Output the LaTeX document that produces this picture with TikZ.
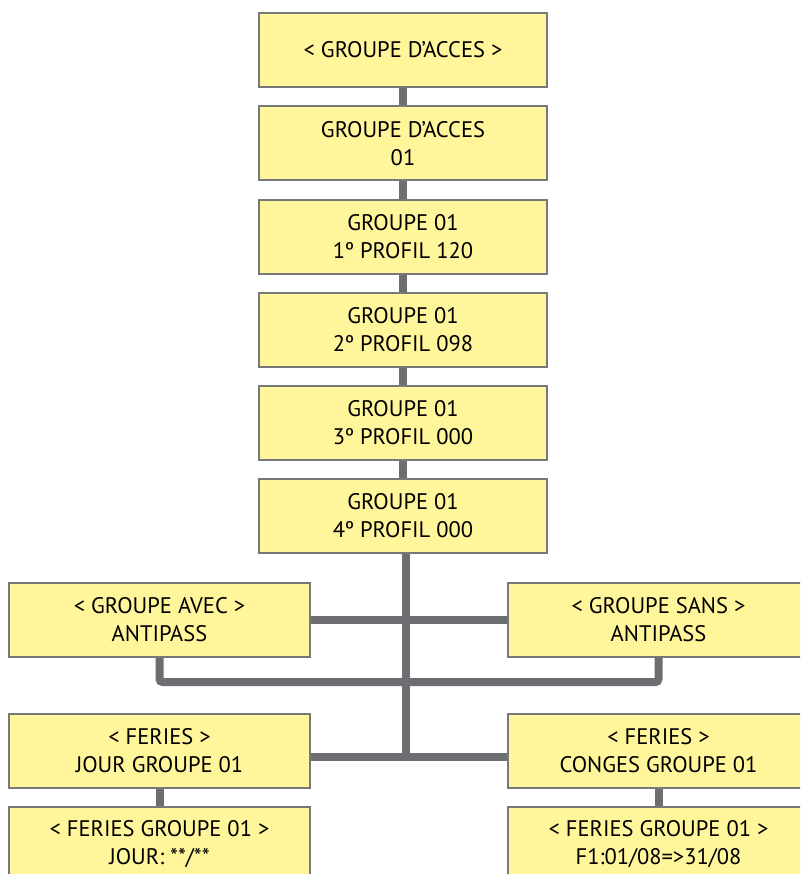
\documentclass[tikz,border=0pt]{standalone}
\usepackage{fontspec}
\setmainfont{PT Sans}
\usetikzlibrary{positioning}
\definecolor{boxfill}{HTML}{FFF59A}
\definecolor{boxline}{HTML}{78787B}
\definecolor{wire}{HTML}{6D6E71}
\pgfdeclarelayer{background}
\pgfsetlayers{background,main}

\begin{document}
\begin{tikzpicture}[
    x=1pt, y=-1pt,
    menu/.style={draw=boxline, line width=2pt, fill=boxfill, minimum width=288pt, minimum height=74pt,
      inner sep=0pt, align=center, font=\fontsize{22.5}{28}\selectfont},
    side/.style={menu, minimum width=301pt},
    link/.style={draw=wire, line width=8pt},
]
\useasboundingbox (0,0) rectangle (800,874);
\clip (0,0) rectangle (800,874);

% main column
\node[menu] (acc) at (403, 50) {< GROUPE D’ACCES >};
\node[menu] (acc01) at (403, 143.5) {GROUPE D’ACCES\\01};
\node[menu] (p1) at (403, 237) {GROUPE 01\\1º PROFIL 120};
\node[menu] (p2) at (403, 330) {GROUPE 01\\2º PROFIL 098};
\node[menu] (p3) at (403, 423) {GROUPE 01\\3º PROFIL 000};
\node[menu] (p4) at (403, 516) {GROUPE 01\\4º PROFIL 000};

% antipass choice
\node[side] (avec) at (159.5, 620) {< GROUPE AVEC >\\ANTIPASS};
\node[side] (sans) at (658.5, 620) {< GROUPE SANS >\\ANTIPASS};

% feries
\node[side] (ferj) at (159.5, 751) {< FERIES >\\JOUR GROUPE 01};
\node[side] (ferc) at (658.5, 751) {< FERIES >\\CONGES GROUPE 01};
\node[side] (jour) at (159.5, 844) {< FERIES GROUPE 01 >\\JOUR: **/**};
\node[side] (conge) at (658.5, 844) {< FERIES GROUPE 01 >\\F1:01/08=>31/08};

\coordinate (merge) at (406, 682);
\coordinate (split) at (406, 757);

\begin{pgfonlayer}{background}
\draw[link] (acc) -- (acc01);
\draw[link] (acc01) -- (p1);
\draw[link] (p1) -- (p2);
\draw[link] (p2) -- (p3);
\draw[link] (p3) -- (p4);
\draw[link] (p4.south -| merge) -- (split);
\draw[link] (avec.east) -- (sans.west);
\draw[link, rounded corners=3pt] (avec.south) |- (merge) -| (sans.south);
\draw[link] (ferj.east |- split) -- (ferc.west |- split);
\draw[link] (ferj) -- (jour);
\draw[link] (ferc) -- (conge);
\end{pgfonlayer}
\end{tikzpicture}
\end{document}
